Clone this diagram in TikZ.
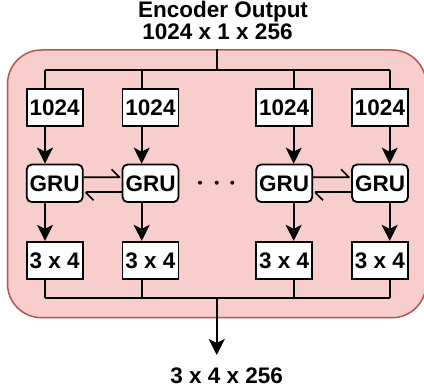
\documentclass[tikz,border=0pt]{standalone}
\usepackage{fontspec}
\setmainfont{Liberation Sans}
\usetikzlibrary{arrows.meta}
\definecolor{pinkfill}{HTML}{F8CECC}
\definecolor{pinkline}{HTML}{B85450}
\newcommand\boxfont{\fontsize{22.5}{17.6}\selectfont\bfseries}
\begin{document}
\begin{tikzpicture}[x=1pt,y=-1pt,
  box/.style={draw, line width=1.8pt, fill=white, minimum width=56pt, minimum height=37.5pt, inner sep=0pt, font=\boxfont},
  grubox/.style={box, rounded corners=5pt},
  ln/.style={line width=1.8pt},
  arr/.style={ln, -{Stealth[length=16pt,width=16pt,inset=4pt]}},
  harp/.style={line width=1.6pt, line join=round},
  txt/.style={font=\boxfont, inner sep=0pt, anchor=base}
]
\useasboundingbox (0,0) rectangle (424,390);
% container
\node[draw=pinkline, fill=pinkfill, line width=1.5pt, rounded corners=34pt,
      minimum width=418.5pt, minimum height=267.7pt, inner sep=0pt] (panel) at (216.75,183.85) {};
% texts
\node[txt, align=center] (title) at (217.5,39.3) {\hspace*{11pt}Encoder Output\\1024 x 1 x 256};
\node[txt] (outlbl) at (226.7,383.3) {3 x 4 x 256};
% helper coordinates
\coordinate (topbus) at (216.75,70);
\coordinate (botbus) at (216.75,298.3);
\coordinate (outend) at (216.75,355);
\coordinate (c1) at (45,0);
\coordinate (c2) at (141.7,0);
\coordinate (c3) at (293.7,0);
\coordinate (c4) at (389.7,0);
\coordinate (hu) at (0,177.3);
\coordinate (hd) at (0,192.3);
% boxes
\foreach \i/\x in {1/54.7,2/150.5,3/284.2,4/380}{
  \node[box] (in\i) at (\x,107.5) {1024};
  \node[grubox] (gru\i) at (\x,183.3) {GRU};
  \node[box] (out\i) at (\x,260.5) {3 x 4};
}
% buses
\draw[ln] (panel.north) -- (topbus);
\draw[ln] (topbus -| c1) -- (topbus -| c4);
\draw[ln] (botbus -| c1) -- (botbus -| c4);
\draw[arr] (botbus) -- (outend);
% column connectors
\foreach \i in {1,2,3,4}{
  \draw[ln] (topbus -| c\i) -- (in\i.north -| c\i);
  \draw[arr] (in\i.south -| c\i) -- (gru\i.north -| c\i);
  \draw[arr] (gru\i.south -| c\i) -- (out\i.north -| c\i);
  \draw[ln] (out\i.south -| c\i) -- (botbus -| c\i);
}
% harpoons
\draw[harp] (gru1.east |- hu) -- ([xshift=-2pt]gru2.west |- hu) -- ++(-8,-8);
\draw[harp] ([xshift=2pt]gru1.east |- hd) -- (gru2.west |- hd);
\draw[harp] ([xshift=2pt]gru1.east |- hd) -- ++(8,8);
\draw[harp] (gru3.east |- hu) -- ([xshift=-2pt]gru4.west |- hu) -- ++(-8,-8);
\draw[harp] ([xshift=2pt]gru3.east |- hd) -- (gru4.west |- hd);
\draw[harp] ([xshift=2pt]gru3.east |- hd) -- ++(8,8);
% dots
\fill (200,182.7) circle (2pt);
\fill (216.7,182.7) circle (2pt);
\fill (232.3,182.7) circle (2pt);
\end{tikzpicture}
\end{document}
